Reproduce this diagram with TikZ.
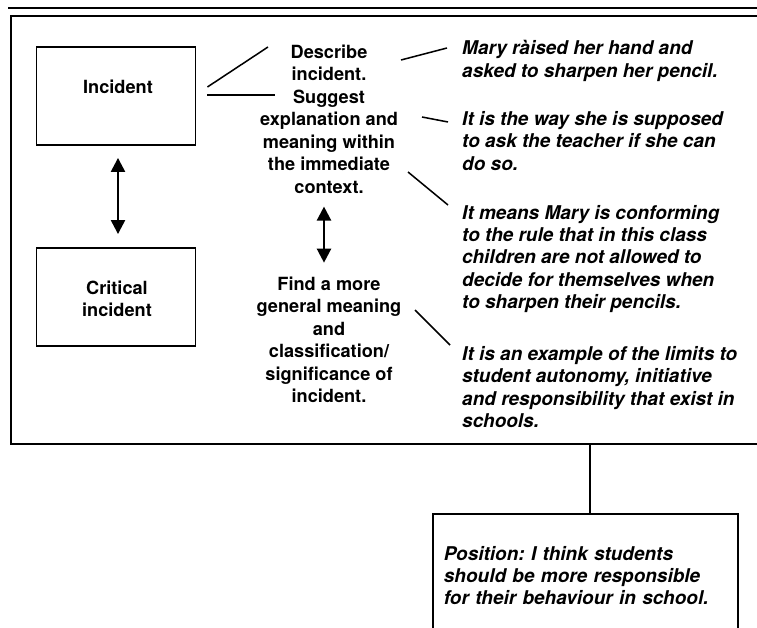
\documentclass[tikz,border=0pt]{standalone}
\usepackage{fontspec}
\setmainfont{TeX Gyre Heros}
\usepackage{tikz}
\usetikzlibrary{arrows.meta,positioning}

\tikzset{
  casebox/.style={draw,line width=1.6pt,minimum width=159*0.03cm,minimum height=98*0.03cm,inner sep=0pt},
  plain/.style={font=\bfseries\fontsize{15.5}{19.2}\selectfont,align=center,inner sep=0pt},
  quote/.style={font=\bfseries\itshape\fontsize{16.2}{19}\selectfont,align=left,inner sep=0pt,anchor=west},
  tie/.style={line width=1.3pt},
  twoway/.style={line width=2pt,{Triangle[length=12pt,width=12pt]}-{Triangle[length=12pt,width=12pt]}}
}

\begin{document}
\frenchspacing
\begin{tikzpicture}[x=0.03cm,y=-0.03cm]
\clip (0,0) rectangle (757,628);

% outer frame, runs off the page on the right
\draw[line width=1.5pt] (8,8) -- (800,8);
\node[draw,line width=1.6pt,anchor=north west,minimum width=790*0.03cm,minimum height=428*0.03cm,inner sep=0pt] (frame) at (10,15) {};

% left column
\node[casebox] (incident) at (116,96) {};
\node[plain] (inclabel) at (118,87) {Incident};
\node[casebox] (critical) at (116,297) {};
\node[plain] (critlabel) at (117,299) {Critical\\incident};
\draw[twoway] ([shift={(2,12)}]incident.south) -- ([shift={(2,-13)}]critical.north);

% middle column
\node[plain] (explain) at (329,119) {Describe\\incident.\\Suggest\\explanation and\\meaning within\\the immediate\\context.};
\node[plain] (general) at (329,340) {Find a more\\general meaning\\and\\classification/\\significance of\\incident.};
\draw[twoway] ([shift={(-5,13)}]explain.south) -- ([shift={(-5,-14)}]general.north);

% right column
\node[quote] (raised) at (462,61) {Mary ràised her hand and\\asked to sharpen her pencil.};
\node[quote] (way) at (462,141) {It is the way she is supposed\\to ask the teacher if she can\\do so.};
\node[quote] (means) at (462,259) {It means Mary is conforming\\to the rule that in this class\\children are not allowed to\\decide for themselves when\\to sharpen their pencils.};
\node[quote] (example) at (462,387) {It is an example of the limits to\\student autonomy, initiative\\and responsibility that exist in\\schools.};

% ties
\coordinate (d1) at (268,47);
\coordinate (d2) at (275,95);
\draw[tie] ([shift={(11,-9)}]incident.east) -- (d1);
\draw[tie] ([shift={(11,-1)}]incident.east) -- (d2);
\coordinate (e1) at (401,60);
\coordinate (e2) at (422,117);
\coordinate (e3) at (408,172);
\coordinate (e4) at (415,310);
\draw[tie] (e1) -- ([shift={(-15,-13)}]raised.west);
\draw[tie] (e2) -- ([shift={(-14,-19)}]way.west);
\draw[tie] (e3) -- ([shift={(-14,-54)}]means.west);
\draw[tie] (e4) -- ([shift={(-12,-42)}]example.west);

% position
\node[draw,line width=1.6pt,anchor=north west,text width=283*0.03cm,align=left,inner xsep=11*0.03cm,inner ysep=32*0.03cm,font=\bfseries\itshape\fontsize{16.2}{19}\selectfont] (position) at (432,513) {Position: I think students\\should be more responsible\\for their behaviour in school.};
\draw[line width=1.5pt] (frame.south -| 590,0) -- (position.north -| 590,0);
\end{tikzpicture}
\end{document}
